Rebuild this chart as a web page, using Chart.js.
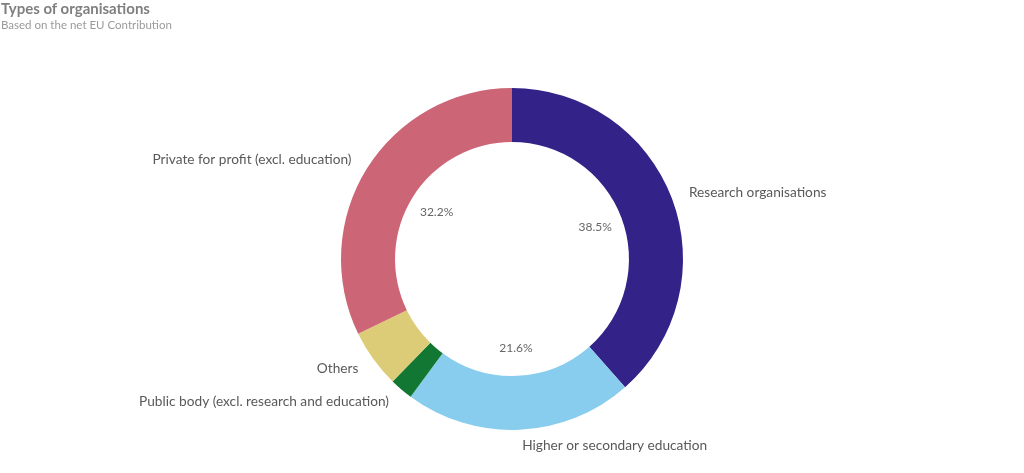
<!DOCTYPE html>
<html>
<head>
<meta charset="utf-8">
<script src="https://cdn.jsdelivr.net/npm/chart.js@4"></script>
<style>
  html, body { margin: 0; padding: 0; background: #fff; }
  #wrap { position: relative; width: 1024px; height: 473px; }
  #title { position: absolute; left: 1px; top: -1px; font: bold 15px Lato, sans-serif; color: #7f7f7f; }
  #subtitle { position: absolute; left: 1px; top: 18px; font: 11.5px Lato, sans-serif; color: #9a9a9a; }
  canvas { position: absolute; left: 0; top: 0; }
</style>
</head>
<body>
<div id="wrap">
  <canvas id="pie" width="1024" height="473"></canvas>
  <div id="title">Types of organisations</div>
  <div id="subtitle">Based on the net EU Contribution</div>
</div>
<script>
/* Types of organisations — share of net EU contribution */

const categories = [
  'Research organisations',
  'Higher or secondary education',
  'Public body (excl. research and education)',
  'Others',
  'Private for profit (excl. education)'
];
const shares = [38.5, 21.6, 2.2, 5.5, 32.2];
const colours = ['#332288', '#88CCEE', '#117733', '#DDCC77', '#CC6677'];

// draws category names outside the ring and percentages inside the hole
const ringLabels = {
  id: 'ringLabels',
  afterDatasetsDraw(chart) {
    const ctx  = chart.ctx;
    const meta = chart.getDatasetMeta(0);
    ctx.save();
    meta.data.forEach((arc, i) => {
      const p   = arc.getProps(['x', 'y', 'startAngle', 'endAngle', 'innerRadius', 'outerRadius'], true);
      const mid = (p.startAngle + p.endAngle) / 2;
      const cos = Math.cos(mid), sin = Math.sin(mid);

      // name outside
      const ro = p.outerRadius + 16;
      ctx.font = '13.7px Lato, sans-serif';
      ctx.fillStyle = '#595959';
      ctx.textBaseline = 'middle';
      ctx.textAlign = cos >= 0 ? 'left' : 'right';
      ctx.fillText(categories[i], p.x + cos * ro + (cos >= 0 ? 2 : -2), p.y + sin * ro);

      // percentage in the hole, big slices only
      if (shares[i] >= 10) {
        const ri = p.innerRadius - 28;
        ctx.font = '12px Lato, sans-serif';
        ctx.fillStyle = '#666';
        ctx.textAlign = 'center';
        ctx.fillText(shares[i].toFixed(1) + '%', p.x + cos * ri, p.y + sin * ri);
      }
    });
    ctx.restore();
  }
};

new Chart(document.getElementById('pie'), {
  type: 'doughnut',
  data: {
    labels: categories,
    datasets: [{
      data: shares,
      backgroundColor: colours,
      borderWidth: 0
    }]
  },
  options: {
    responsive: false,
    animation: false,
    cutout: '68.4%',
    layout: { padding: { top: 88, bottom: 43, left: 0, right: 0 } },
    plugins: {
      legend: { display: false },
      tooltip: { enabled: false }
    }
  },
  plugins: [ringLabels]
});
</script>
</body>
</html>
